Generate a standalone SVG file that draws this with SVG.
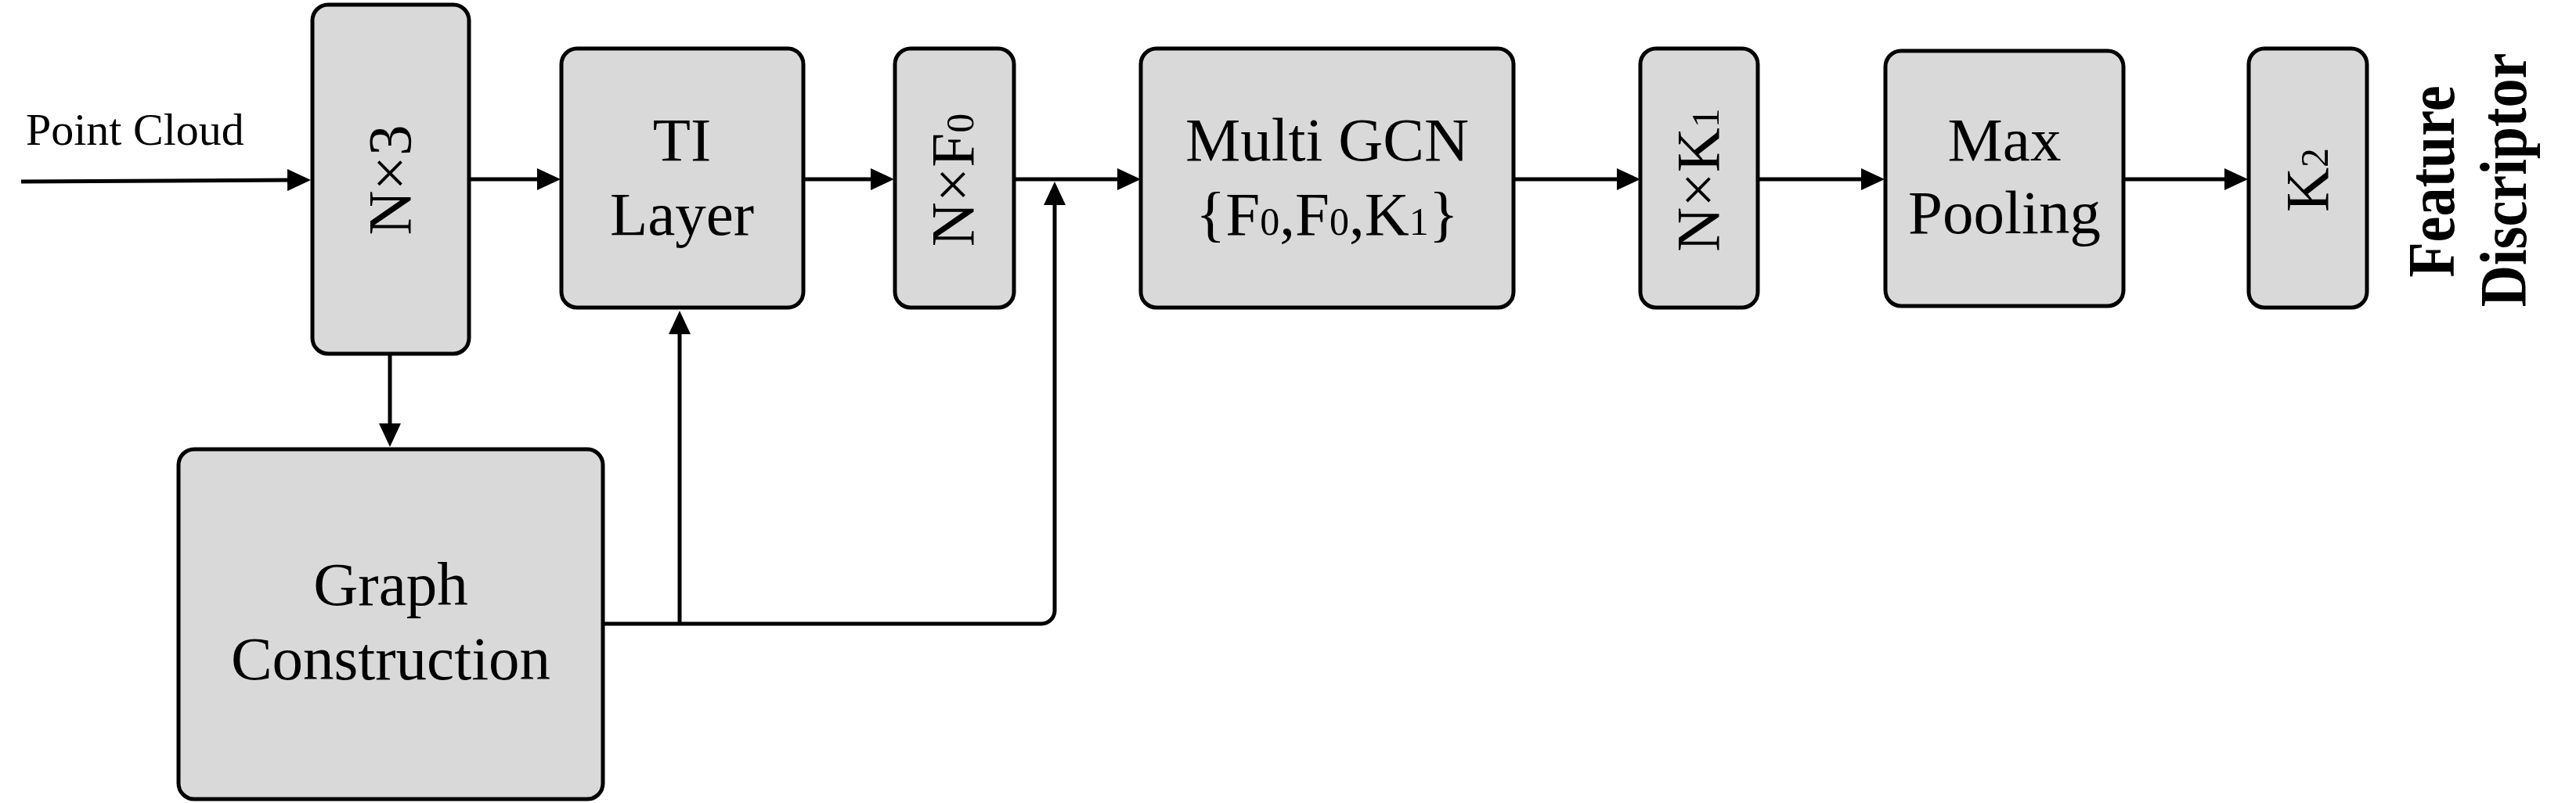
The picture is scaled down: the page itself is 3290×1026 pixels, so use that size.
<svg xmlns="http://www.w3.org/2000/svg" width="3290" height="1026" viewBox="0 0 3290 1026">
<style>
.box{fill:#d9d9d9;stroke:#000;stroke-width:5}
.t{font-family:"Liberation Serif","Times New Roman",serif;font-size:79px;fill:#000;text-anchor:middle}
.s{font-size:50px}
.c{fill:none;stroke:#000;stroke-width:5}
.fd{font-family:"Liberation Serif","Times New Roman",serif;font-size:74px;font-weight:bold;fill:#000;text-anchor:middle}
</style>
<defs>
<marker id="ah" viewBox="0 0 30 28" markerWidth="30" markerHeight="28" refX="10" refY="14" orient="auto" markerUnits="userSpaceOnUse">
<path d="M0,0 L30,14 L0,28 z" fill="#000"/>
</marker>
</defs>
<rect width="3290" height="1026" fill="#fff"/>
<g id="connectors">
<line class="c" x1="27" y1="232" x2="377" y2="230" marker-end="url(#ah)"/>
<line class="c" x1="600" y1="229" x2="696" y2="229" marker-end="url(#ah)"/>
<line class="c" x1="1026" y1="229" x2="1122" y2="229" marker-end="url(#ah)"/>
<line class="c" x1="1295" y1="229" x2="1437" y2="229" marker-end="url(#ah)"/>
<line class="c" x1="1933" y1="229" x2="2075" y2="229" marker-end="url(#ah)"/>
<line class="c" x1="2245" y1="229" x2="2387" y2="229" marker-end="url(#ah)"/>
<line class="c" x1="2712" y1="229" x2="2851" y2="229" marker-end="url(#ah)"/>
<line class="c" x1="498" y1="452" x2="498" y2="551" marker-end="url(#ah)"/>
<path class="c" d="M868,797 V417" marker-end="url(#ah)"/>
<path class="c" d="M770,797 H1330 A17,17 0 0 0 1347,780 V252" marker-end="url(#ah)"/>
</g>
<g id="point-cloud-label">
<text class="t" style="font-size:58px;text-anchor:start" x="33" y="185">Point Cloud</text>
</g>
<g id="n3">
<rect class="box" x="399" y="6" width="200" height="446" rx="20"/>
<text class="t" transform="translate(524,230) rotate(-90)">N×3</text>
</g>
<g id="ti-layer">
<rect class="box" x="717" y="62" width="309" height="331" rx="20"/>
<text class="t" x="871" y="205">TI</text>
<text class="t" x="871" y="300">Layer</text>
</g>
<g id="nf0">
<rect class="box" x="1143" y="62" width="152" height="331" rx="20"/>
<text class="t" transform="translate(1243,230) rotate(-90)">N×F<tspan class="s">0</tspan></text>
</g>
<g id="multi-gcn">
<rect class="box" x="1457" y="62" width="476" height="331" rx="20"/>
<text class="t" x="1695" y="205">Multi GCN</text>
<text class="t" x="1695" y="300">{F<tspan class="s">0</tspan>,F<tspan class="s">0</tspan>,K<tspan class="s">1</tspan>}</text>
</g>
<g id="nk1">
<rect class="box" x="2095" y="62" width="150" height="331" rx="20"/>
<text class="t" transform="translate(2195,230) rotate(-90)">N×K<tspan class="s">1</tspan></text>
</g>
<g id="max-pooling">
<rect class="box" x="2408" y="65" width="304" height="326" rx="20"/>
<text class="t" x="2560" y="205">Max</text>
<text class="t" x="2560" y="298">Pooling</text>
</g>
<g id="k2">
<rect class="box" x="2872" y="62" width="151" height="331" rx="20"/>
<text class="t" transform="translate(2973,230) rotate(-90)">K<tspan class="s">2</tspan></text>
</g>
<g id="feature-descriptor">
<text class="fd" transform="translate(3134,232) rotate(-90) scale(1,1.15)">Feature</text>
<text class="fd" transform="translate(3226,230) rotate(-90) scale(1,1.15)">Discriptor</text>
</g>
<g id="graph-construction">
<rect class="box" x="228" y="574" width="542" height="447" rx="20"/>
<text class="t" x="499" y="773">Graph</text>
<text class="t" x="499" y="868">Construction</text>
</g>
</svg>
